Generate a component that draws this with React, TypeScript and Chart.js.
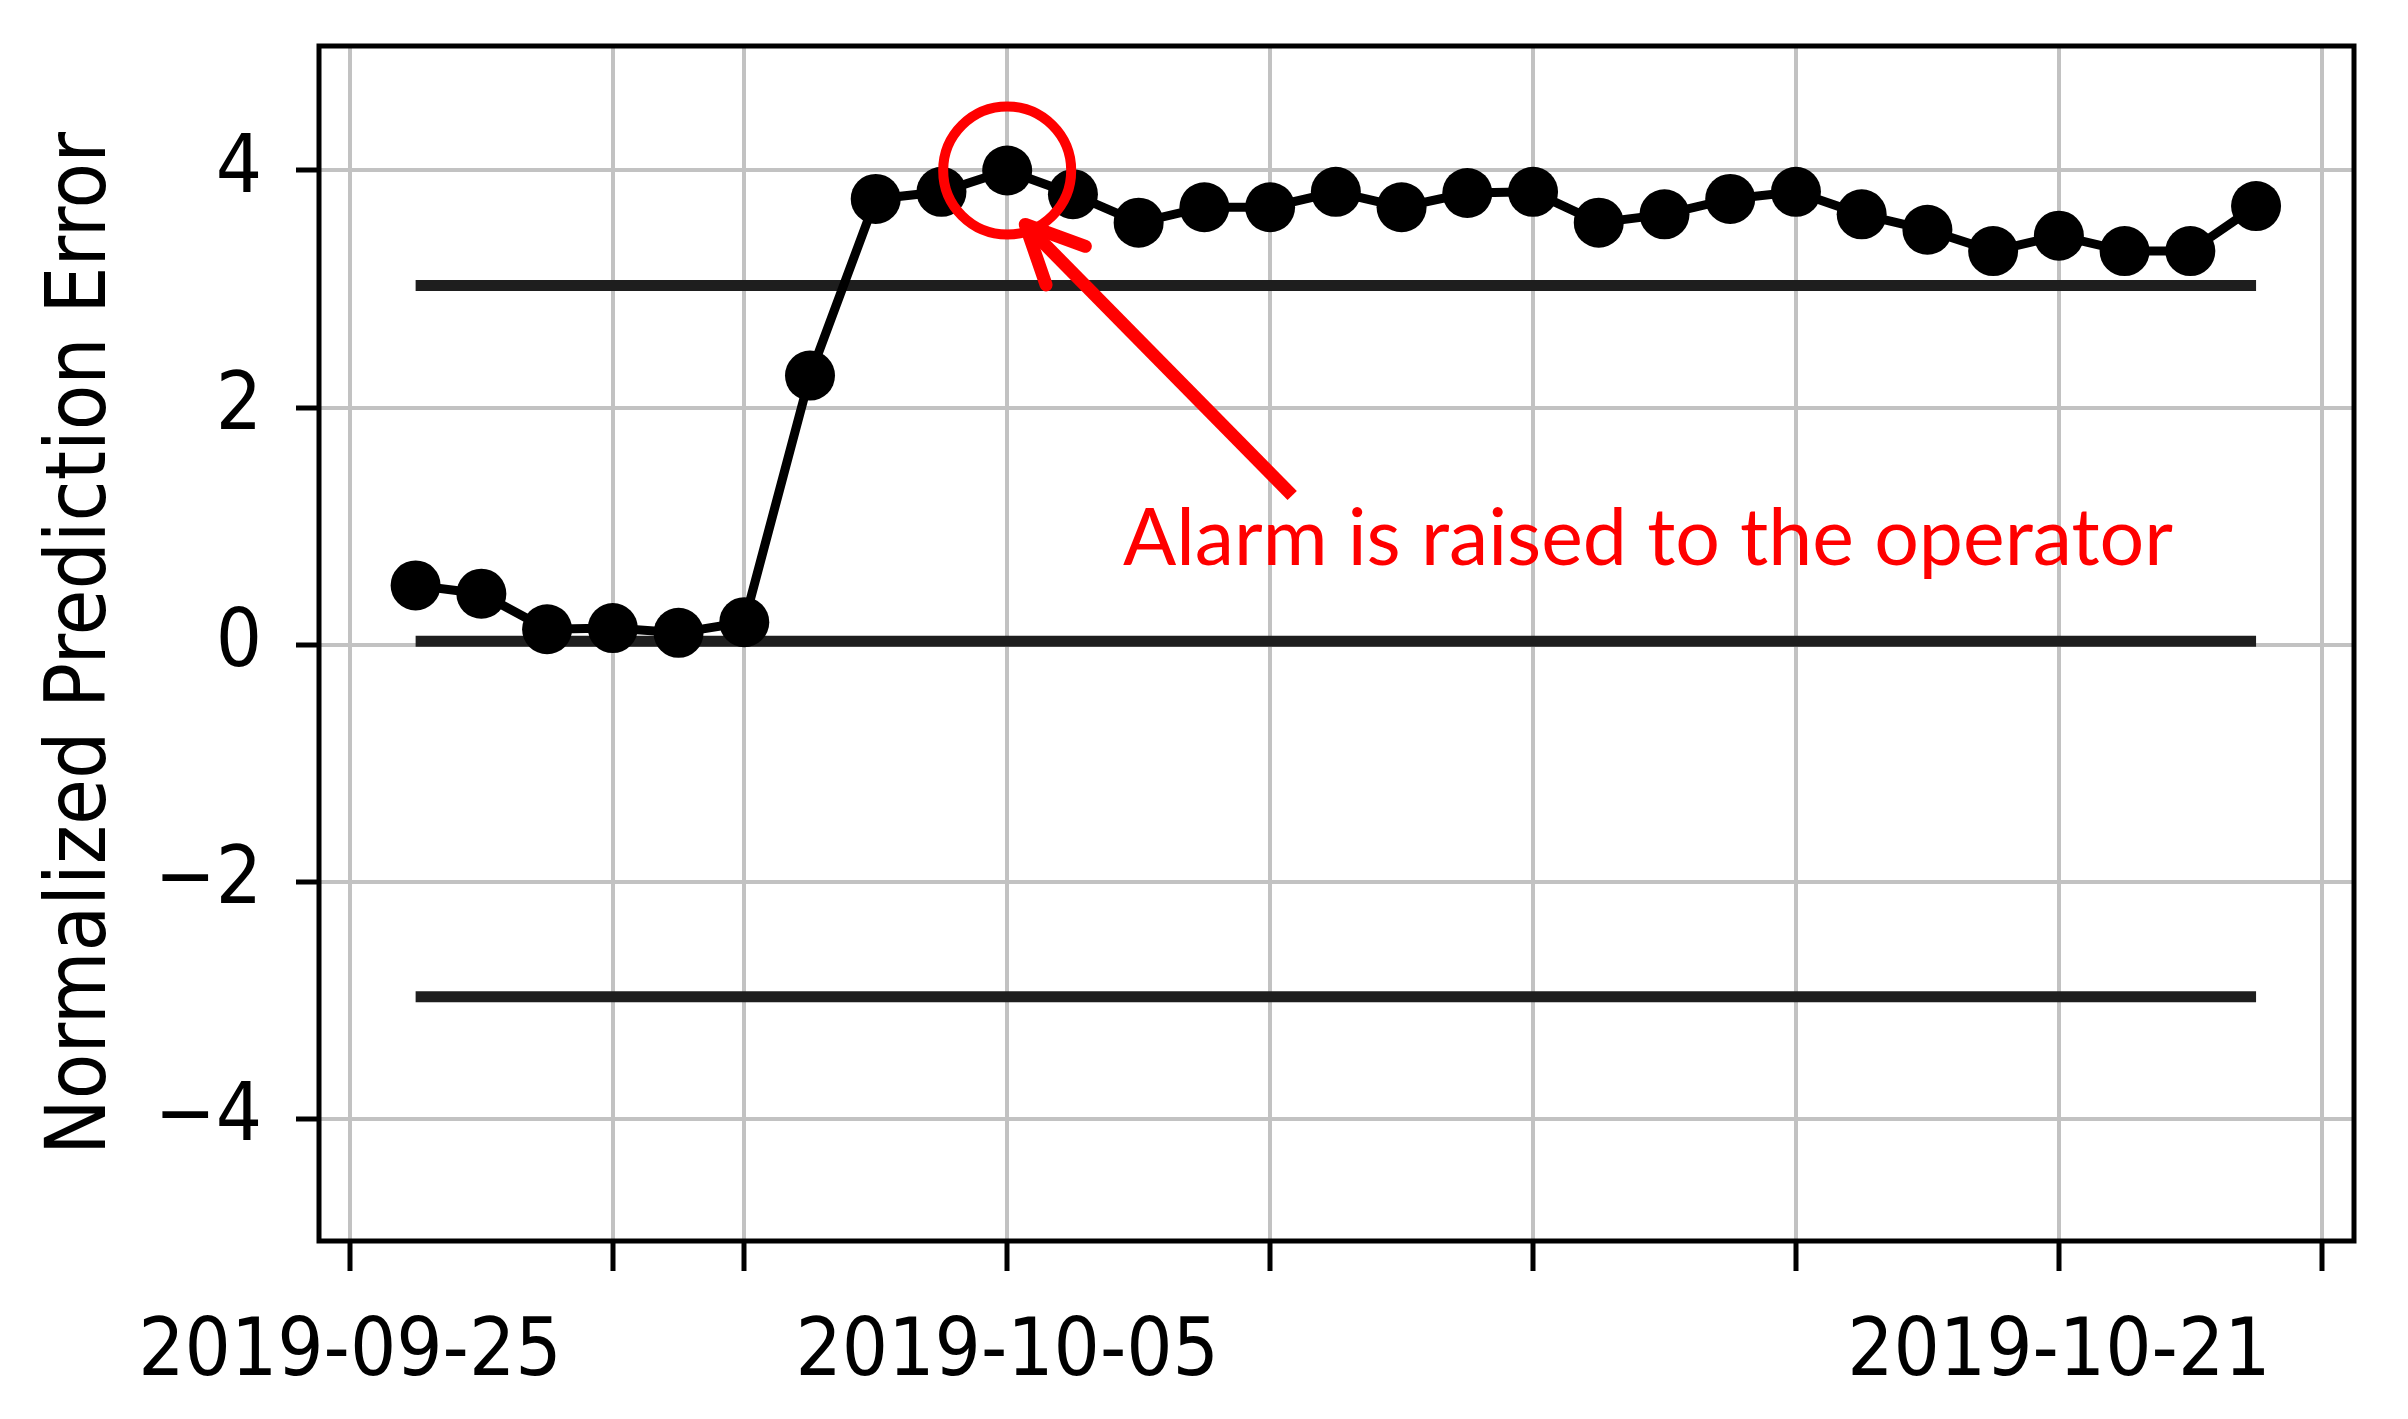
import React, { useEffect, useRef } from "react";
import { Chart, registerables } from "chart.js";

Chart.register(...registerables);

// ---------------- data ----------------
const dates = [
  "2019-09-26", "2019-09-27", "2019-09-28", "2019-09-29", "2019-09-30",
  "2019-10-01", "2019-10-02", "2019-10-03", "2019-10-04", "2019-10-05",
  "2019-10-06", "2019-10-07", "2019-10-08", "2019-10-09", "2019-10-10",
  "2019-10-11", "2019-10-12", "2019-10-13", "2019-10-14", "2019-10-15",
  "2019-10-16", "2019-10-17", "2019-10-18", "2019-10-19", "2019-10-20",
  "2019-10-21", "2019-10-22", "2019-10-23", "2019-10-24",
];
const errorValues = [
  0.50, 0.43, 0.13, 0.14, 0.10,
  0.19, 2.27, 3.76, 3.82, 4.00,
  3.80, 3.56, 3.69, 3.69, 3.82,
  3.69, 3.81, 3.82, 3.56, 3.63,
  3.76, 3.82, 3.63, 3.50, 3.32,
  3.45, 3.32, 3.32, 3.70,
];
const upperLimit = 3.03;
const centerLine = 0.03;
const lowerLimit = -2.97;

const xTickDates = [
  "2019-09-25", "2019-09-29", "2019-10-01", "2019-10-05", "2019-10-09",
  "2019-10-13", "2019-10-17", "2019-10-21", "2019-10-25",
];
const xLabeledDates = ["2019-09-25", "2019-10-05", "2019-10-21"];
const yTicks = [-4, -2, 0, 2, 4];
const yTitle = "Normalized Prediction Error";
const alarmDate = "2019-10-05";
const alarmText = "Alarm is raised to the operator";

// ---------------- helpers ----------------
const BASE = Date.UTC(2019, 8, 25);
const DAY = 86400000;
const toDay = (s: string) => {
  const [y, m, d] = s.split("-").map(Number);
  return (Date.UTC(y, m - 1, d) - BASE) / DAY;
};
const fromDay = (v: number) =>
  new Date(BASE + Math.round(v) * DAY).toISOString().slice(0, 10);

const MPL_FONT = "'DejaVu Sans Condensed', 'DejaVu Sans', sans-serif";
const RED = "#ff0000";

const limitLine = (y: number) => ({
  data: [
    { x: toDay(dates[0]), y },
    { x: toDay(dates[dates.length - 1]), y },
  ],
  borderColor: "#1e1e1e",
  backgroundColor: "#1e1e1e",
  borderWidth: 11,
  borderCapStyle: "butt" as const,
  pointRadius: 0,
  order: 1,
});

const annotationPlugin = {
  id: "alarmAnnotation",
  afterDraw(chart: any) {
    const ctx = chart.ctx as CanvasRenderingContext2D;
    const { left, top, right, bottom } = chart.chartArea;
    ctx.save();
    // axes frame (spines)
    ctx.strokeStyle = "#000";
    ctx.lineWidth = 5;
    ctx.strokeRect(left, top, right - left, bottom - top);

    // circle around the alarm point
    const xs = chart.scales.x;
    const ys = chart.scales.y;
    const idx = dates.indexOf(alarmDate);
    const cx = xs.getPixelForValue(toDay(alarmDate));
    const cy = ys.getPixelForValue(errorValues[idx]);
    ctx.strokeStyle = RED;
    ctx.lineWidth = 10;
    ctx.beginPath();
    ctx.arc(cx, cy, 64, 0, Math.PI * 2);
    ctx.stroke();

    // arrow
    const tipX = cx + 18;
    const tipY = cy + 54;
    const tailX = cx + 285;
    const tailY = cy + 325;
    ctx.lineWidth = 13;
    ctx.lineCap = "butt";
    ctx.beginPath();
    ctx.moveTo(tailX, tailY);
    ctx.lineTo(tipX + 4, tipY + 4);
    ctx.stroke();
    const ang = Math.atan2(tailY - tipY, tailX - tipX);
    const armLen = 64;
    const spread = (25.5 * Math.PI) / 180;
    ctx.lineCap = "round";
    ctx.lineJoin = "round";
    ctx.beginPath();
    ctx.moveTo(tipX + armLen * Math.cos(ang - spread), tipY + armLen * Math.sin(ang - spread));
    ctx.lineTo(tipX, tipY);
    ctx.lineTo(tipX + armLen * Math.cos(ang + spread), tipY + armLen * Math.sin(ang + spread));
    ctx.stroke();

    // annotation text
    ctx.font = "100px Lato, 'Open Sans', sans-serif";
    const w100 = ctx.measureText(alarmText).width;
    const size = (100 * 1050) / w100;
    ctx.font = `${size}px Lato, 'Open Sans', sans-serif`;
    ctx.fillStyle = RED;
    ctx.textAlign = "left";
    ctx.textBaseline = "alphabetic";
    ctx.fillText(alarmText, 1123, 565);
    ctx.restore();
  },
};

export default function App() {
  const canvasRef = useRef<HTMLCanvasElement | null>(null);

  useEffect(() => {
    document.body.style.margin = "0";
    const canvas = canvasRef.current;
    if (!canvas) return;

    const chart = new Chart(canvas, {
      type: "line",
      data: {
        datasets: [
          {
            data: dates.map((d, i) => ({ x: toDay(d), y: errorValues[i] })),
            borderColor: "#000",
            backgroundColor: "#000",
            borderWidth: 9,
            pointRadius: 25,
            pointBorderWidth: 0,
            pointBackgroundColor: "#000",
            tension: 0,
            order: 0,
          },
          limitLine(upperLimit),
          limitLine(centerLine),
          limitLine(lowerLimit),
        ],
      },
      options: {
        animation: false,
        responsive: false,
        devicePixelRatio: 1,
        events: [],
        layout: { padding: { top: 46, right: 54, left: 0, bottom: 0 } },
        plugins: {
          legend: { display: false },
          tooltip: { enabled: false },
        },
        scales: {
          x: {
            type: "linear",
            min: -0.47,
            max: 30.49,
            afterBuildTicks: (s: any) => {
              s.ticks = xTickDates.map((d) => ({ value: toDay(d) }));
            },
            afterFit: (s: any) => {
              s.height = 178;
              s.paddingLeft = 0;
              s.paddingRight = 0;
            },
            border: { display: false },
            grid: {
              color: "#c2c2c2",
              lineWidth: 4,
              drawTicks: true,
              tickColor: "#000",
              tickWidth: 5,
              tickLength: 30,
            },
            ticks: {
              autoSkip: false,
              maxRotation: 0,
              minRotation: 0,
              padding: 34,
              color: "#000",
              font: { family: MPL_FONT, size: 81 },
              callback: (v: any) => {
                const s = fromDay(Number(v));
                return xLabeledDates.includes(s) ? s : "";
              },
            },
          },
          y: {
            type: "linear",
            min: -5.03,
            max: 5.05,
            afterBuildTicks: (s: any) => {
              s.ticks = yTicks.map((v) => ({ value: v }));
            },
            afterFit: (s: any) => {
              s.width = 319;
              s.paddingTop = 0;
              s.paddingBottom = 0;
            },
            border: { display: false },
            grid: {
              color: "#c2c2c2",
              lineWidth: 4,
              drawTicks: true,
              tickColor: "#000",
              tickWidth: 5,
              tickLength: 23,
            },
            ticks: {
              padding: 34,
              color: "#000",
              font: { family: MPL_FONT, size: 81 },
              callback: (v: any) => {
                const n = Number(v);
                return n < 0 ? "\u2212" + Math.abs(n) : String(n);
              },
            },
            title: {
              display: true,
              text: yTitle,
              color: "#000",
              font: { family: MPL_FONT, size: 83 },
              padding: { top: 34, bottom: 0 },
            },
          },
        },
      },
      plugins: [annotationPlugin],
    } as any);

    return () => {
      chart.destroy();
    };
  }, []);

  return (
    <div style={{ width: 2408, height: 1419, background: "#fff" }}>
      <canvas
        ref={canvasRef}
        width={2408}
        height={1419}
        style={{ display: "block", width: 2408, height: 1419 }}
      />
    </div>
  );
}
